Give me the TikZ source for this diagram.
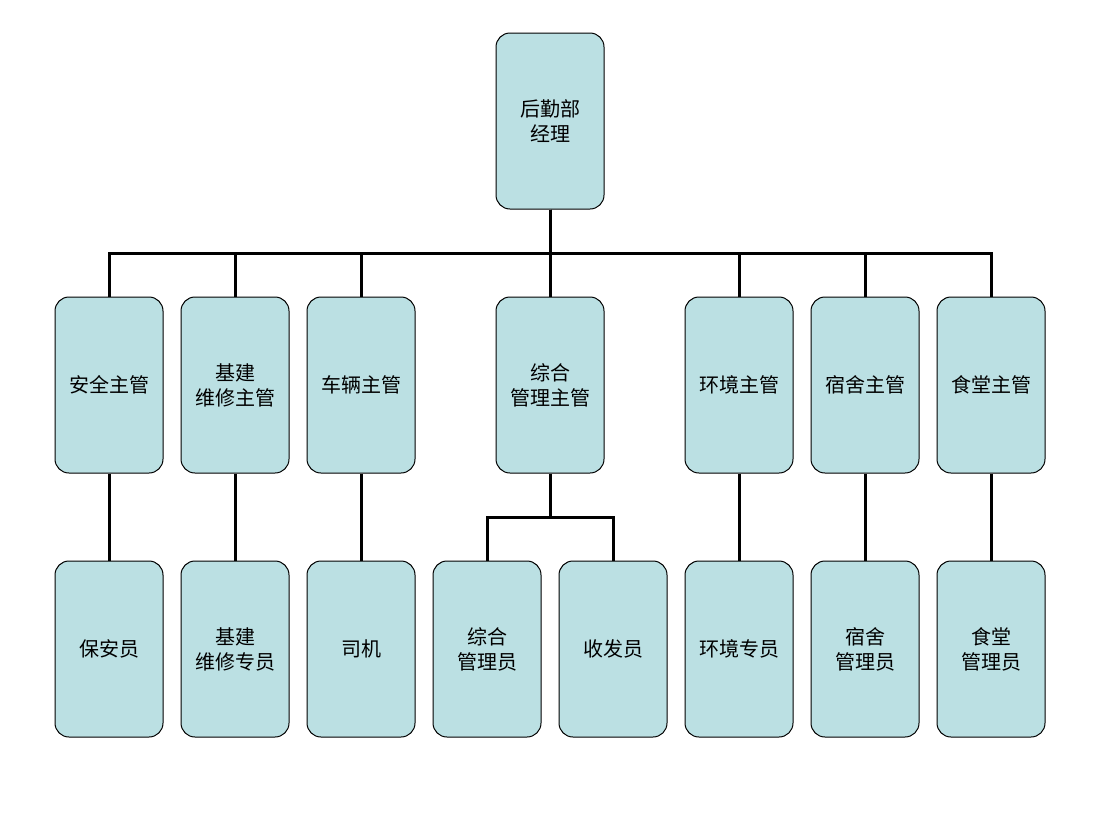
\documentclass[tikz,border=0pt]{standalone}
\usepackage{fontspec}
\setmainfont{Noto Sans CJK SC}
\definecolor{boxfill}{HTML}{BBE0E3}
\begin{document}
\begin{tikzpicture}[x=1pt,y=-1pt,
    post/.style={draw,line width=1pt,fill=boxfill,rounded corners=14pt,
      minimum width=108pt,minimum height=176pt,align=center,font=\fontsize{20}{25}\selectfont},
    link/.style={line width=3pt}]
  \useasboundingbox (0,0) rectangle (1100,825);

  \node[post] (top) at (550,121) {后勤部\\经理};

  \node[post] (anquan) at (109,385) {安全主管};
  \node[post] (jijian) at (235,385) {基建\\维修主管};
  \node[post] (cheliang) at (361,385) {车辆主管};
  \node[post] (zonghe) at (550,385) {综合\\管理主管};
  \node[post] (huanjing) at (739,385) {环境主管};
  \node[post] (sushe) at (865,385) {宿舍主管};
  \node[post] (shitang) at (991,385) {食堂主管};

  \node[post] (baoan) at (109,649) {保安员};
  \node[post] (weixiu) at (235,649) {基建\\维修专员};
  \node[post] (siji) at (361,649) {司机};
  \node[post] (zhguan) at (487,649) {综合\\管理员};
  \node[post] (shoufa) at (613,649) {收发员};
  \node[post] (hjzy) at (739,649) {环境专员};
  \node[post] (ssgl) at (865,649) {宿舍\\管理员};
  \node[post] (stgl) at (991,649) {食堂\\管理员};

  \coordinate (bus) at (550,253);
  \coordinate (subbus) at (550,517);

  \foreach \c in {anquan,jijian,cheliang,zonghe,huanjing,sushe,shitang}
    \draw[link] (top.south) -- (bus) -| (\c.north);
  \foreach \c in {zhguan,shoufa}
    \draw[link] (zonghe.south) -- (subbus) -| (\c.north);
  \foreach \a/\b in {anquan/baoan,jijian/weixiu,cheliang/siji,huanjing/hjzy,sushe/ssgl,shitang/stgl}
    \draw[link] (\a) -- (\b);
\end{tikzpicture}
\end{document}
